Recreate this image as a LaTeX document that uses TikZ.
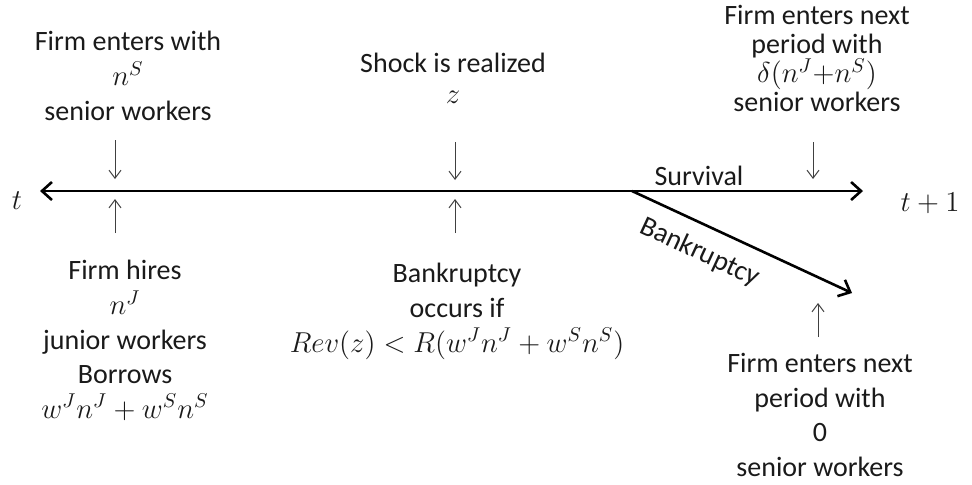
\documentclass[tikz,border=0pt]{standalone}
\usepackage{fontspec}
\setmainfont{Carlito}
\usepackage{xcolor}
\definecolor{InkGray}{HTML}{1A1A1A}
\definecolor{TickGray}{HTML}{404040}
\usetikzlibrary{arrows.meta}
\newcommand{\tightlines}{\fontsize{14}{14.5}\selectfont\lineskiplimit=-6pt\relax}
\tikzset{
  txt/.style={align=center,inner sep=0pt,anchor=north,text=InkGray,
    font=\fontsize{14}{17.3}\selectfont},
  tight/.style={font=\tightlines},
  lbl/.style={inner sep=2pt,text=InkGray,font=\fontsize{14}{17}\selectfont},
  tick/.style={-{Straight Barb[length=4pt,width=6pt]},draw=TickGray,line width=0.5pt},
  mainarr/.style={-{Straight Barb[length=5pt,width=9pt]},draw=black,line width=1.3pt},
}

\begin{document}
\begin{tikzpicture}[x=0.5pt,y=-0.5pt]
\useasboundingbox (0,0) rectangle (972,484);

\coordinate (lend) at (40,191);
\coordinate (split) at (632,191);
\coordinate (rend) at (863,191);
\coordinate (bend) at (852,293);

\node[lbl] (t0) at (17,201) {$t$};
\node[lbl] (t1) at (930,203) {$t+1$};

\node[txt] (enter) at (128,31)
  {Firm enters with\\$n^S$\\senior workers};
\node[txt,font=\fontsize{14}{15.5}\selectfont] (shock) at (453,53)
  {Shock is realized\\$z$};
\node[txt,tight] (nextup) at (817,5)
  {Firm enters next\\period with\\$\delta(n^J{+}n^S)$\\senior workers};
\node[txt] (hire) at (125,260)
  {Firm hires\\$n^J$\\junior workers\\Borrows\\$w^Jn^J+w^Sn^S$};
\node[txt] (bank) at (457,263)
  {Bankruptcy\\occurs if\\$Rev(z)<R(w^Jn^J+w^Sn^S)$};
\node[txt] (nextdn) at (820,353)
  {Firm enters next\\period with\\0\\senior workers};

\draw[mainarr] (split) -- (lend);
\draw[mainarr] (split) -- node[lbl,above,pos=0.29] (surv) {Survival} (rend);
\draw[mainarr] (split) -- node[lbl,below=5pt,sloped,pos=0.36] (bk) {Bankruptcy} (bend);

\coordinate (d1a) at (115,140); \coordinate (d1b) at (115,179);
\coordinate (u1a) at (115,233); \coordinate (u1b) at (115,199);
\coordinate (d2a) at (455,142); \coordinate (d2b) at (455,180);
\coordinate (u2a) at (455,233); \coordinate (u2b) at (455,199);
\coordinate (d3a) at (813,142); \coordinate (d3b) at (813,179);
\coordinate (u3a) at (818,337); \coordinate (u3b) at (818,303);
\draw[tick] (d1a) -- (d1b);
\draw[tick] (u1a) -- (u1b);
\draw[tick] (d2a) -- (d2b);
\draw[tick] (u2a) -- (u2b);
\draw[tick] (d3a) -- (d3b);
\draw[tick] (u3a) -- (u3b);
\end{tikzpicture}
\end{document}
